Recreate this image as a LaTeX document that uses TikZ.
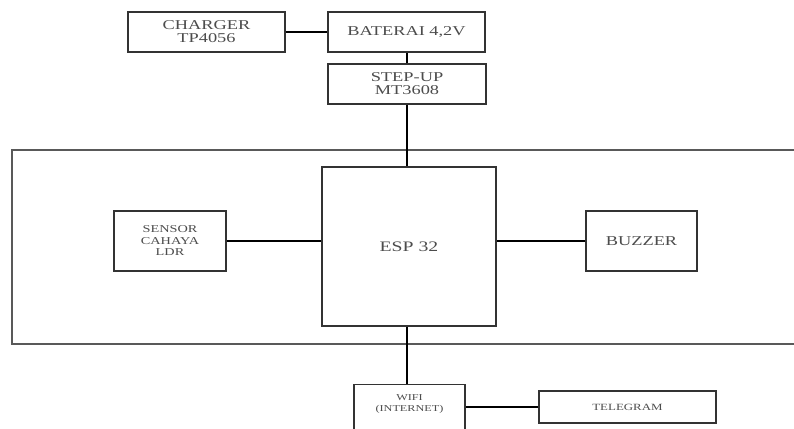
\documentclass[tikz,border=0pt]{standalone}
\usepackage{fontspec}
\setmainfont[FakeStretch=1.36]{Liberation Serif}

\begin{document}
\begin{tikzpicture}[
    x=1pt, y=-1pt,
    blok/.style={draw=black!80, line width=1.1pt, inner sep=1pt,
                 align=center, text=black!70},
    besar/.style={font=\fontsize{13.5}{13}\selectfont},
    sedang/.style={font=\fontsize{10.5}{11.5}\selectfont},
    kecil/.style={font=\fontsize{9}{11}\selectfont},
    kabel/.style={line width=1.4pt},
  ]

  \useasboundingbox (0,0) rectangle (794,428);

  % ---- papan utama (sisi kanan keluar dari gambar) ---------------------------
  \draw[draw=black!65, line width=1.1pt] (12,150) rectangle (830,344);

  % ---- catu daya --------------------------------------------------------------
  \node[blok,besar,minimum width=157,minimum height=40] (charger) at (206.5,32)
    {CHARGER\\TP4056};
  \node[blok,besar,minimum width=157,minimum height=40] (baterai) at (406.5,32)
    {BATERAI 4,2V};
  \node[blok,besar,minimum width=158,minimum height=40] (stepup) at (407,84)
    {STEP-UP\\MT3608};

  % ---- mikrokontroler dan perangkat di papan -------------------------------
  \node[blok,font=\fontsize{14.5}{15}\selectfont,minimum width=174,
        minimum height=159] (esp) at (409,246.5) {ESP 32};
  \node[blok,sedang,minimum width=112,minimum height=60] (sensor) at (170,241)
    {SENSOR\\CAHAYA\\LDR};
  \node[blok,besar,minimum width=111,minimum height=60] (buzzer) at (641.5,241)
    {BUZZER};

  % ---- koneksi keluar (kotak wifi terpotong di bawah) -------------------------
  \node[blok,kecil,anchor=north,minimum width=111,inner ysep=10pt,
        text depth=40pt] (wifi) at (409.5,384) {WIFI\\(INTERNET)};
  \node[blok,font=\fontsize{9.5}{11}\selectfont,minimum width=177,
        minimum height=32] (telegram) at (627.5,407) {TELEGRAM};

  % ---- kabel ------------------------------------------------------------------
  \draw[kabel] (charger.east |- baterai.west) -- (baterai.west);
  \draw[kabel] (stepup.north) -- (stepup.north |- baterai.south);
  \draw[kabel] (stepup.south) -- (stepup.south |- esp.north);
  \draw[kabel] (sensor.east) -- (sensor.east -| esp.west);
  \draw[kabel] (buzzer.west) -- (buzzer.west -| esp.east);
  \draw[kabel] (esp.south -| stepup.south) -- (wifi.north -| stepup.south);
  \draw[kabel] (telegram.west) -- (telegram.west -| wifi.east);

\end{tikzpicture}
\end{document}
